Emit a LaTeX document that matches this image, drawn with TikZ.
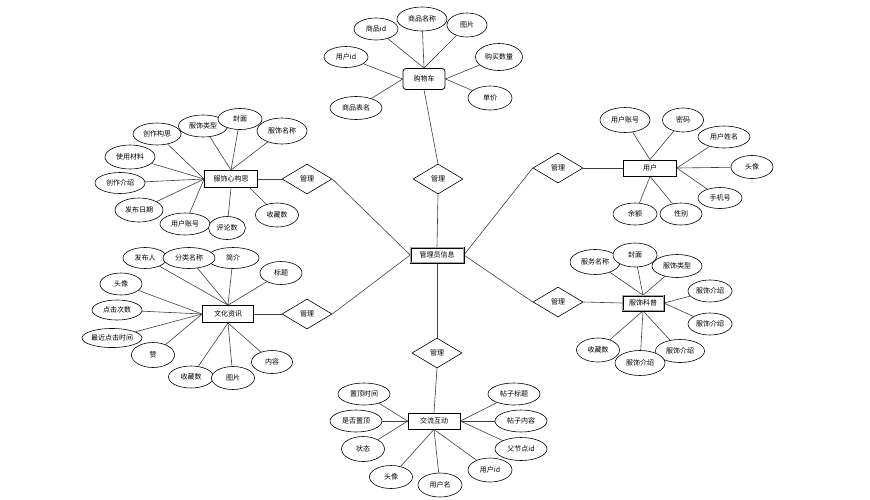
\documentclass[tikz,border=0pt]{standalone}
\usepackage{fontspec}
\setmainfont{Noto Sans CJK SC}
\usetikzlibrary{shapes.geometric}
\pgfdeclarelayer{bg}
\pgfdeclarelayer{back}
\pgfsetlayers{back,bg,main}
\tikzset{
  x=1pt,y=-1pt,
  every node/.style={font=\fontsize{7}{7}\selectfont},
  attr/.style={ellipse,draw=black,line width=0.6pt,fill=white,inner sep=0pt,minimum width=44pt,minimum height=22pt},
  wattr/.style={attr,minimum width=50pt,minimum height=24pt},
  ent/.style={rectangle,draw=black,line width=0.8pt,fill=white,inner sep=0pt,minimum width=52pt,minimum height=16pt},
  dbl/.style={double=gray!70,double distance=0.6pt,draw=black,line width=0.7pt},
  rel/.style={diamond,draw=black,line width=0.6pt,fill=white,aspect=1.65,inner sep=0pt,minimum width=50pt,minimum height=30pt},
  link/.style={draw=black!75,line width=0.6pt},
}
\begin{document}
\begin{tikzpicture}
\useasboundingbox (0,0) rectangle (870,499);
\begin{pgfonlayer}{back}
\fill[white] (0,0) rectangle (870,499);
\end{pgfonlayer}
% ---------- nodes ----------
\node[ent,dbl,minimum width=53pt,minimum height=15pt] (admin) at (437,255) {管理员信息};
% relations
\node[rel] (rTop) at (438,179) {管理};
\node[rel] (rL1) at (307,179) {管理};
\node[rel] (rL2) at (307,314) {管理};
\node[rel] (rR1) at (558,168) {管理};
\node[rel] (rR2) at (558,302) {管理};
\node[rel] (rB) at (437,353) {管理};
% cart
\node[ent,rounded corners=3pt,minimum width=42pt,minimum height=21pt] (cart) at (424,79) {购物车};
\node[attr] (c1) at (376,29) {商品id};
\node[wattr] (c2) at (422,19) {商品名称};
\node[attr,minimum width=40pt,minimum height=24pt] (c3) at (467,25) {图片};
\node[attr,minimum height=21pt] (c4) at (346,57) {用户id};
\node[wattr,minimum width=47pt,minimum height=27pt] (c5) at (499,57) {购买数量};
\node[attr,minimum height=24pt] (c6) at (490,98) {单价};
\node[wattr,minimum width=52pt,minimum height=23pt] (c7) at (356,108) {商品表名};
% 服饰心构思
\node[ent,minimum width=53pt,minimum height=17pt] (xg) at (231,179) {服饰心构思};
\node[wattr,minimum width=48pt,minimum height=22pt] (x1) at (157,134) {创作构思};
\node[wattr,minimum width=49pt,minimum height=22pt] (x2) at (203,126) {服饰类型};
\node[attr,minimum height=21pt] (x3) at (240,119) {封面};
\node[wattr,minimum width=50pt,minimum height=26pt] (x4) at (282,131) {服饰名称};
\node[wattr,minimum width=50pt,minimum height=24pt] (x5) at (130,157) {使用材料};
\node[wattr,minimum width=50pt,minimum height=21pt] (x6) at (120,183) {创作介绍};
\node[wattr,minimum width=48pt,minimum height=24pt] (x7) at (139,210) {发布日期};
\node[wattr,minimum width=50pt,minimum height=22pt] (x8) at (185,224) {用户账号};
\node[attr,minimum width=37pt,minimum height=23pt] (x9) at (227,228) {评论数};
\node[attr,minimum width=43pt,minimum height=24pt] (x10) at (277,215) {收藏数};
% 文化资讯
\node[ent,minimum width=51pt,minimum height=17pt] (wh) at (228,314) {文化资讯};
\node[attr,minimum height=21pt] (w1) at (145,258) {发布人};
\node[wattr,minimum width=52pt,minimum height=21pt] (w3) at (233,258) {简介};
\node[wattr,minimum width=52pt,minimum height=21pt] (w2) at (189,258) {分类名称};
\node[attr,minimum width=42pt,minimum height=23pt] (w4) at (281,273) {标题};
\node[attr,minimum width=42pt,minimum height=22pt] (w5) at (121,284) {头像};
\node[wattr,minimum width=50pt,minimum height=20pt] (w6) at (117,310) {点击次数};
\node[attr,minimum width=60pt,minimum height=19pt] (w7) at (112,338) {最近点击时间};
\node[attr,minimum width=43pt,minimum height=25pt] (w8) at (153,355) {赞};
\node[attr,minimum width=45pt,minimum height=22pt] (w9) at (191,377) {收藏数};
\node[attr,minimum width=43pt,minimum height=23pt] (w10) at (233,378) {图片};
\node[attr,minimum width=41pt,minimum height=23pt] (w11) at (272,362) {内容};
% 用户
\node[ent,minimum width=53pt,minimum height=16pt] (user) at (650,168) {用户};
\node[wattr,minimum width=50pt,minimum height=25pt] (u1) at (625,120) {用户账号};
\node[attr,minimum width=41pt,minimum height=24pt] (u2) at (683,120) {密码};
\node[wattr,minimum width=52pt,minimum height=22pt] (u3) at (724,137) {用户姓名};
\node[attr,minimum width=42pt,minimum height=23pt] (u4) at (752,167) {头像};
\node[attr,minimum width=44pt,minimum height=21pt] (u5) at (720,198) {手机号};
\node[attr,minimum width=42pt,minimum height=22pt] (u6) at (681,214) {性别};
\node[attr,minimum width=44pt,minimum height=22pt] (u7) at (635,214) {余额};
% 服饰科普
\node[ent,dbl,minimum width=41pt,minimum height=15pt] (kp) at (643,303) {服饰科普};
\node[wattr,minimum width=50pt,minimum height=25pt] (k1) at (595,262) {服务名称};
\node[wattr,minimum width=50pt,minimum height=23pt] (k3) at (677,266) {服饰类型};
\node[attr,minimum width=44pt,minimum height=24pt] (k2) at (635,255) {封面};
\node[attr,minimum width=44pt,minimum height=22pt] (k4) at (710,291) {服饰介绍};
\node[attr,minimum width=44pt,minimum height=22pt] (k5) at (710,324) {服饰介绍};
\node[wattr,minimum width=49pt,minimum height=23pt] (k6) at (680,351) {服饰介绍};
\node[wattr,minimum width=50pt,minimum height=25pt] (k7) at (640,363) {服饰介绍};
\node[attr,minimum width=43pt,minimum height=24pt] (k8) at (598,350) {收藏数};
% 交流互动
\node[ent,minimum width=52pt,minimum height=16pt] (jl) at (434,421) {交流互动};
\node[wattr,minimum width=52pt,minimum height=22pt] (j1) at (364,394) {置顶时间};
\node[wattr,minimum width=52pt,minimum height=22pt] (j2) at (356,421) {是否置顶};
\node[attr,minimum width=43pt,minimum height=25pt] (j3) at (363,449) {状态};
\node[attr,minimum width=43pt,minimum height=23pt] (j4) at (391,477) {头像};
\node[attr,minimum width=44pt,minimum height=24pt] (j5) at (440,485) {用户名};
\node[attr,minimum width=44pt,minimum height=24pt] (j6) at (490,470) {用户id};
\node[wattr,minimum width=52pt,minimum height=23pt] (j7) at (521,449) {父节点id};
\node[wattr,minimum width=52pt,minimum height=22pt] (j8) at (521,421) {帖子内容};
\node[wattr,minimum width=52pt,minimum height=22pt] (j9) at (514,394) {帖子标题};
% ---------- connectors (behind nodes) ----------
\begin{pgfonlayer}{bg}
% cart
\foreach \a in {c1,c2,c3} \draw[link] (\a) -- (cart.north);
\foreach \a in {c4,c7} \draw[link] (\a) -- (cart.west);
\foreach \a in {c5,c6} \draw[link] (\a) -- (cart.east);
\draw[link] (cart.south) -- (rTop.north);
\draw[link] (rTop.south) -- (admin.north);
% 服饰心构思
\foreach \a in {x1,x5,x6,x7,x8} \draw[link] (\a) -- (xg.west);
\foreach \a in {x2,x3,x4} \draw[link] (\a) -- (xg.north);
\draw[link] (x9) -- (xg.south);
\draw[link] (x10) -- ([xshift=-8pt]xg.south east);
\draw[link] (xg.east) -- (rL1.west);
\draw[link] (rL1.east) -- (admin.west);
% 文化资讯
\foreach \a in {w1,w2,w3,w4} \draw[link] (\a) -- (wh.north);
\foreach \a in {w5,w6,w7,w8} \draw[link] (\a) -- (wh.west);
\foreach \a in {w9,w10,w11} \draw[link] (\a) -- (wh.south);
\draw[link] (wh.east) -- (rL2.west);
\draw[link] (rL2.east) -- (admin.west);
% 用户
\foreach \a in {u1,u2} \draw[link] (\a) -- (user.north);
\foreach \a in {u3,u4,u5} \draw[link] (\a) -- (user.east);
\foreach \a in {u6,u7} \draw[link] (\a) -- (user.south);
\draw[link] (rR1.east) -- (user.west);
\draw[link] (admin.east) -- (rR1.west);
% 服饰科普
\foreach \a in {k1,k2,k3} \draw[link] (\a) -- (kp.north);
\foreach \a in {k4,k5} \draw[link] (\a) -- (kp.east);
\foreach \a in {k6,k7,k8} \draw[link] (\a) -- (kp.south);
\draw[link] (rR2.east) -- (kp.west);
\draw[link] (admin.east) -- (rR2.west);
% 交流互动
\foreach \a in {j1,j2,j3} \draw[link] (\a) -- (jl.west);
\foreach \a in {j7,j8,j9} \draw[link] (\a) -- (jl.east);
\foreach \a in {j4,j5,j6} \draw[link] (\a) -- (jl.south);
\draw[link] (rB.south) -- (jl.north);
\draw[link] (admin.south) -- (rB.north);
\end{pgfonlayer}
\end{tikzpicture}
\end{document}
